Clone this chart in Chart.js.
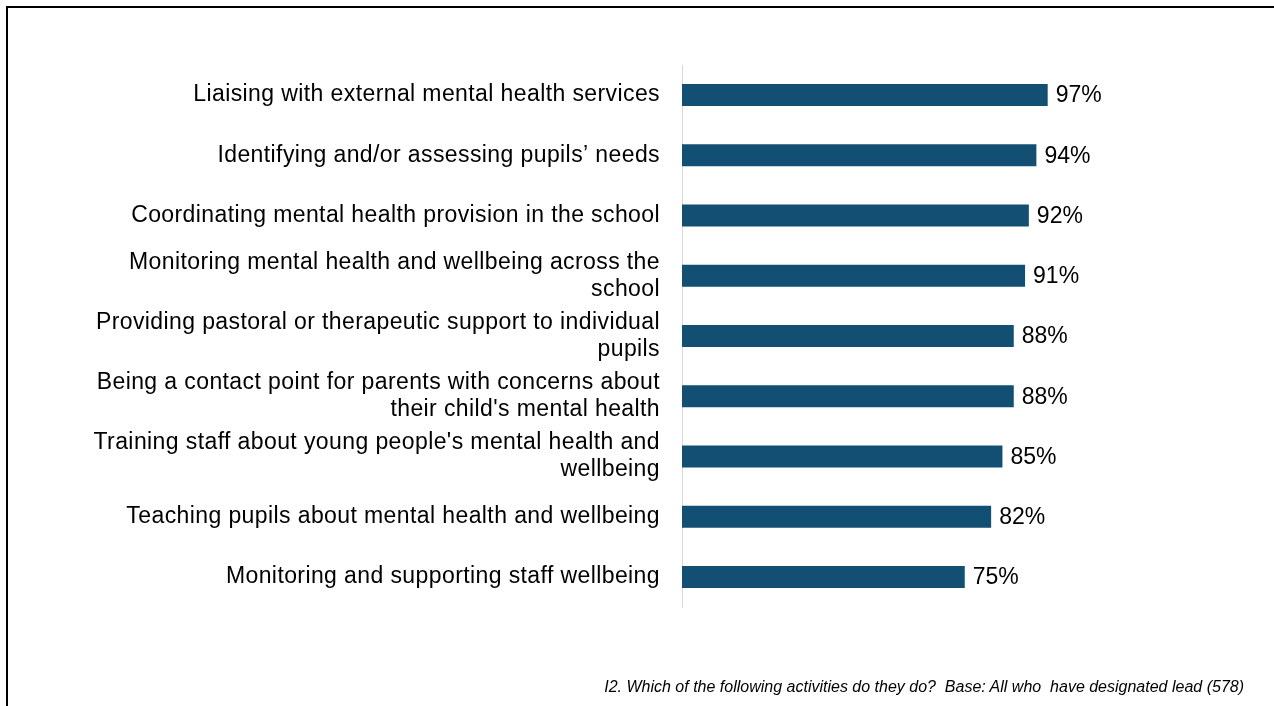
<!DOCTYPE html>
<html>
<head>
<meta charset="utf-8">
<script src="https://cdn.jsdelivr.net/npm/chart.js@4/dist/chart.umd.min.js"></script>
<style>
  body { margin: 0; background: #fff; font-family: "Liberation Sans", Arial, sans-serif; }
  #wrap { position: relative; width: 1274px; height: 706px; overflow: hidden; }
  #frame { position: absolute; left: 6px; top: 6px; width: 1300px; height: 800px;
           border-left: 2px solid #000; border-top: 2px solid #000; }
  #myChart { position: absolute; left: 0; top: 0; }
  #note { position: absolute; right: 30px; top: 678px; font-size: 16px; font-style: italic;
          color: #000; white-space: pre; }
</style>
</head>
<body>
<div id="wrap">
  <div id="frame"></div>
  <canvas id="myChart" width="1274" height="706"></canvas>
  <div id="note">I2. Which of the following activities do they do?  Base: All who  have designated lead (578)</div>
</div>
<script>
const labels = [
  "Liaising with external mental health services",
  "Identifying and/or assessing pupils\u2019 needs",
  "Coordinating mental health provision in the school",
  ["Monitoring mental health and wellbeing across the", "school"],
  ["Providing pastoral or therapeutic support to individual", "pupils"],
  ["Being a contact point for parents with concerns about", "their child's mental health"],
  ["Training staff about young people's mental health and", "wellbeing"],
  "Teaching pupils about mental health and wellbeing",
  "Monitoring and supporting staff wellbeing"
];
const values = [97, 94, 92, 91, 88, 88, 85, 82, 75];

const barColor = "#124f72";

// slightly wider text, the original looks like GDI rendered Arial
const spacing = {
  id: "spacing",
  beforeDraw(chart) { chart.ctx.letterSpacing = "0.4px"; }
};

// draws "97%" etc after each bar
const valueLabels = {
  id: "valueLabels",
  afterDatasetsDraw(chart) {
    const ctx = chart.ctx;
    const meta = chart.getDatasetMeta(0);
    ctx.save();
    ctx.letterSpacing = "0px";
    ctx.font = "23px 'Liberation Sans', Arial, sans-serif";
    ctx.fillStyle = "#000";
    ctx.textBaseline = "middle";
    ctx.textAlign = "left";
    meta.data.forEach((bar, i) => {
      ctx.fillText(values[i] + "%", bar.x + 8, bar.y + 1);
    });
    ctx.restore();
  }
};

new Chart("myChart", {
  type: "bar",
  data: {
    labels: labels,
    datasets: [{
      data: values,
      backgroundColor: barColor,
      barPercentage: 0.73,
      categoryPercentage: 0.5
    }]
  },
  options: {
    indexAxis: "y",
    responsive: false,
    animation: false,
    layout: { padding: { top: 65, bottom: 99, left: 0, right: 215 } },
    plugins: { legend: { display: false }, tooltip: { enabled: false } },
    scales: {
      x: { display: false, min: 0, max: 100 },
      y: {
        afterFit(scale) { scale.width = 682; },
        grid: { display: false },
        border: { color: "#d9d9d9", width: 1 },
        ticks: {
          color: "#000",
          padding: 14,
          font: { family: "'Liberation Sans', Arial, sans-serif", size: 23, lineHeight: 1.17 }
        }
      }
    }
  },
  plugins: [spacing, valueLabels]
});
</script>
</body>
</html>
